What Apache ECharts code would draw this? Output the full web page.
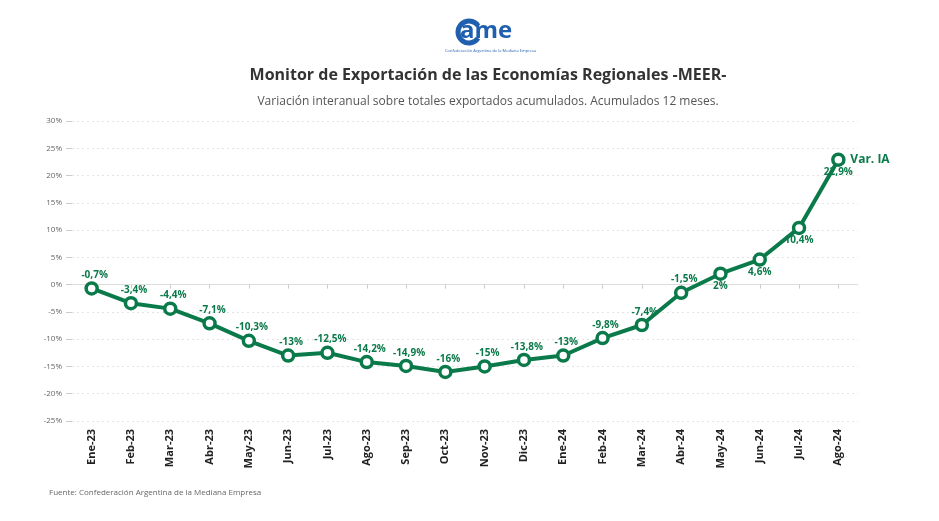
<!DOCTYPE html>
<html><head><meta charset="utf-8">
<script src="https://cdn.jsdelivr.net/npm/echarts@6/dist/echarts.min.js"></script>
<style>html,body{margin:0;padding:0;background:#fff}#c{width:939px;height:521px}</style>
</head><body><div id="c"></div>
<script>
const categories = ['Ene-23','Feb-23','Mar-23','Abr-23','May-23','Jun-23','Jul-23','Ago-23','Sep-23','Oct-23','Nov-23','Dic-23','Ene-24','Feb-24','Mar-24','Abr-24','May-24','Jun-24','Jul-24','Ago-24'];
const varIA = [-0.7,-3.4,-4.4,-7.1,-10.3,-13,-12.5,-14.2,-14.9,-16,-15,-13.8,-13,-9.8,-7.4,-1.5,2,4.6,10.4,22.9];
const labelBelow = [false,false,false,false,false,false,false,false,false,false,false,false,false,false,false,false,true,true,true,true];
const seriesName = 'Var. IA';
const titleText = 'Monitor de Exportación de las Economías Regionales -MEER-';
const subtitleText = 'Variación interanual sobre totales exportados acumulados. Acumulados 12 meses.';
const sourceText = 'Fuente: Confederación Argentina de la Mediana Empresa';
const GREEN = '#0b7a4a';
const FONT = '"Open Sans", "Noto Sans", sans-serif';

const chart = echarts.init(document.getElementById('c'), null, {renderer:'canvas'});
const data = varIA.map((v,i)=>({
  value: v,
  label: { position: labelBelow[i] ? 'bottom' : 'top', distance: labelBelow[i] ? 0 : 1, offset: labelBelow[i] ? [0,0] : [3,0] }
}));
chart.setOption({
  backgroundColor:'#fff',
  animation:false,
  title:[
    {text:titleText, left:483, textAlign:'center', top:62, textStyle:{fontFamily:FONT, fontSize:16, fontWeight:'bold', color:'#333'}},
    {text:subtitleText, left:483, textAlign:'center', top:91, textStyle:{fontFamily:FONT, fontSize:12, fontWeight:'normal', color:'#555'}},
    {text:sourceText, left:44, top:484, textStyle:{fontFamily:FONT, fontSize:8, fontWeight:'normal', color:'#666'}}
  ],
  graphic:[
    {type:'arc', shape:{cx:469, cy:32, r:11, startAngle:0.6, endAngle:-0.6, clockwise:true}, style:{stroke:'#1f5fae', lineWidth:5, fill:null}},
    {type:'text', left:460, top:19, style:{text:'ame', font:'bold 24px '+FONT, fill:'#1f5fae'}},
    {type:'text', left:445, top:49, style:{text:'Confederación Argentina de la Mediana Empresa', font:'4px '+FONT, fill:'#1f5fae'}}
  ],
  grid:{left:72, right:81, top:121, bottom:100},
  xAxis:{
    type:'category', data:categories, boundaryGap:true,
    axisLine:{show:true, lineStyle:{color:'#ddd', width:1}},
    axisTick:{show:true, alignWithLabel:true, length:4, lineStyle:{color:'#ccc'}},
    axisLabel:{rotate:90, fontFamily:FONT, fontSize:11, fontWeight:'bold', color:'#222', margin:8}
  },
  yAxis:{
    type:'value', min:-25, max:30, interval:5,
    axisLine:{show:false},
    axisTick:{show:true, length:6, lineStyle:{color:'#ccc'}},
    axisLabel:{formatter:'{value}%', fontFamily:FONT, fontSize:8, color:'#666', margin:10},
    splitLine:{show:true, lineStyle:{color:'#e4e4e4', type:[2,3], width:1}}
  },
  series:[{
    name:seriesName, type:'line', data:data,
    lineStyle:{color:GREEN, width:4},
    symbol:'circle', symbolSize:11,
    itemStyle:{color:'#fff', borderColor:GREEN, borderWidth:3.5},
    label:{show:true, fontFamily:FONT, fontSize:10, fontWeight:'bold', color:GREEN,
      formatter:p=>String(p.value).replace('.',',')+'%'},
    endLabel:{show:true, formatter:seriesName, fontFamily:FONT, fontSize:12, fontWeight:'bold', color:GREEN, distance:12},
    z:3
  }]
});
</script></body></html>
